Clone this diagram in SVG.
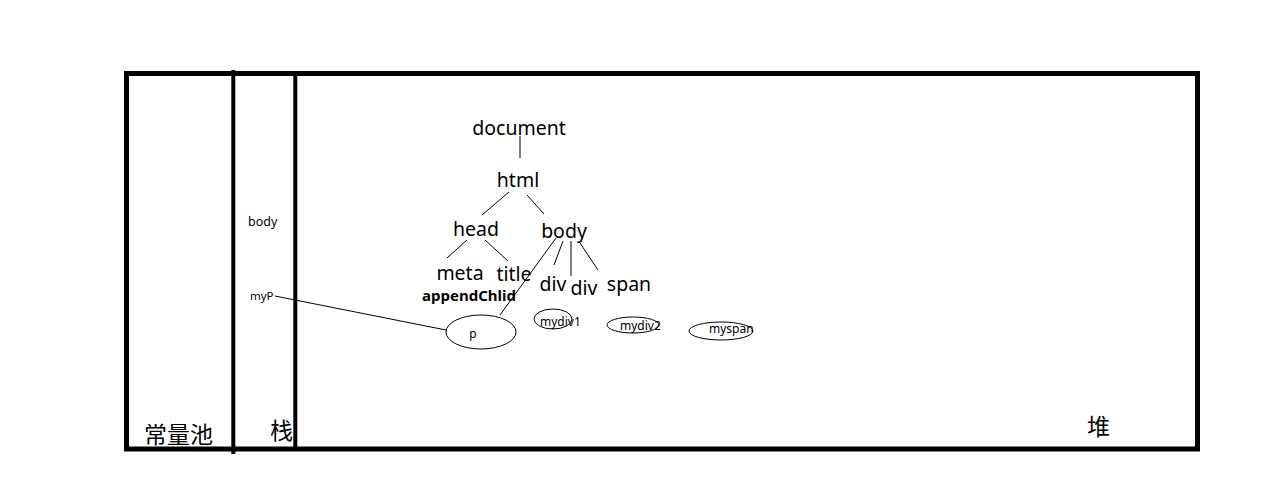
<svg xmlns="http://www.w3.org/2000/svg" width="1274" height="489" viewBox="0 0 1274 489">
<style>
.frame{fill:none;stroke:#000;stroke-width:5}
.div{stroke:#000;stroke-width:4}
.ln{stroke:#000;stroke-width:1;fill:none}
.t{font-family:"Noto Sans","DejaVu Sans",sans-serif;fill:#000}
.big{font-size:19.5px}
.sm{font-size:12px}
.cjk{font-family:"Noto Sans CJK SC",sans-serif;font-size:23px;fill:#000}
.el{fill:#fff;stroke:#000;stroke-width:1}
</style>
<rect width="1274" height="489" fill="#fff"/>
<g id="frame">
<rect class="frame" x="126.5" y="73.5" width="1071" height="375.5"/>
<line class="div" x1="233.3" y1="70" x2="233.3" y2="454"/>
<line class="div" x1="295.3" y1="73" x2="295.3" y2="449"/>
<text class="cjk" x="144" y="443">常量池</text>
<text class="cjk" x="270" y="439">栈</text>
<text class="cjk" x="1087" y="435">堆</text>
</g>
<g id="connectors">
<line class="ln" x1="520" y1="136" x2="520" y2="158"/>
<line class="ln" x1="509" y1="192" x2="482" y2="215"/>
<line class="ln" x1="527" y1="195" x2="544" y2="214"/>
<line class="ln" x1="467" y1="240" x2="447" y2="258"/>
<line class="ln" x1="485" y1="240" x2="508" y2="261"/>
<line class="ln" x1="556" y1="238" x2="500" y2="315"/>
<line class="ln" x1="563" y1="241" x2="554" y2="265"/>
<line class="ln" x1="571" y1="241" x2="571" y2="276"/>
<line class="ln" x1="580" y1="243" x2="598" y2="270"/>
<line class="ln" x1="275" y1="296" x2="446" y2="330"/>
</g>
<g id="tree">
<text class="t big" x="519" y="135" text-anchor="middle">document</text>
<text class="t big" x="518" y="187" text-anchor="middle">html</text>
<text class="t big" x="476" y="236" text-anchor="middle">head</text>
<text class="t big" x="564" y="238" text-anchor="middle">body</text>
<text class="t big" x="460" y="280" text-anchor="middle">meta</text>
<text class="t big" x="514" y="281" text-anchor="middle">title</text>
<text class="t big" x="553" y="291" text-anchor="middle">div</text>
<text class="t big" x="584" y="295" text-anchor="middle">div</text>
<text class="t big" x="629" y="291" text-anchor="middle">span</text>
<text class="t" x="422" y="301" font-size="15" font-weight="bold">appendChlid</text>
</g>
<g id="node-p">
<ellipse class="el" cx="481" cy="332" rx="35" ry="17"/>
<text class="t sm" x="473" y="338" text-anchor="middle">p</text>
</g>
<g id="node-mydiv1">
<ellipse class="el" cx="553" cy="319" rx="19" ry="10" fill="none"/>
<text class="t sm" x="540" y="326">mydiv1</text>
</g>
<g id="node-mydiv2">
<ellipse class="el" cx="633" cy="325" rx="26" ry="8"/>
<text class="t sm" x="620" y="330">mydiv2</text>
</g>
<g id="node-myspan">
<ellipse class="el" cx="721" cy="331" rx="32" ry="9"/>
<text class="t sm" x="709" y="333">myspan</text>
</g>
<g id="stack">
<text class="t" x="248" y="226" font-size="12.5">body</text>
<text class="t" x="250" y="300" font-size="11.5">myP</text>
</g>
</svg>
